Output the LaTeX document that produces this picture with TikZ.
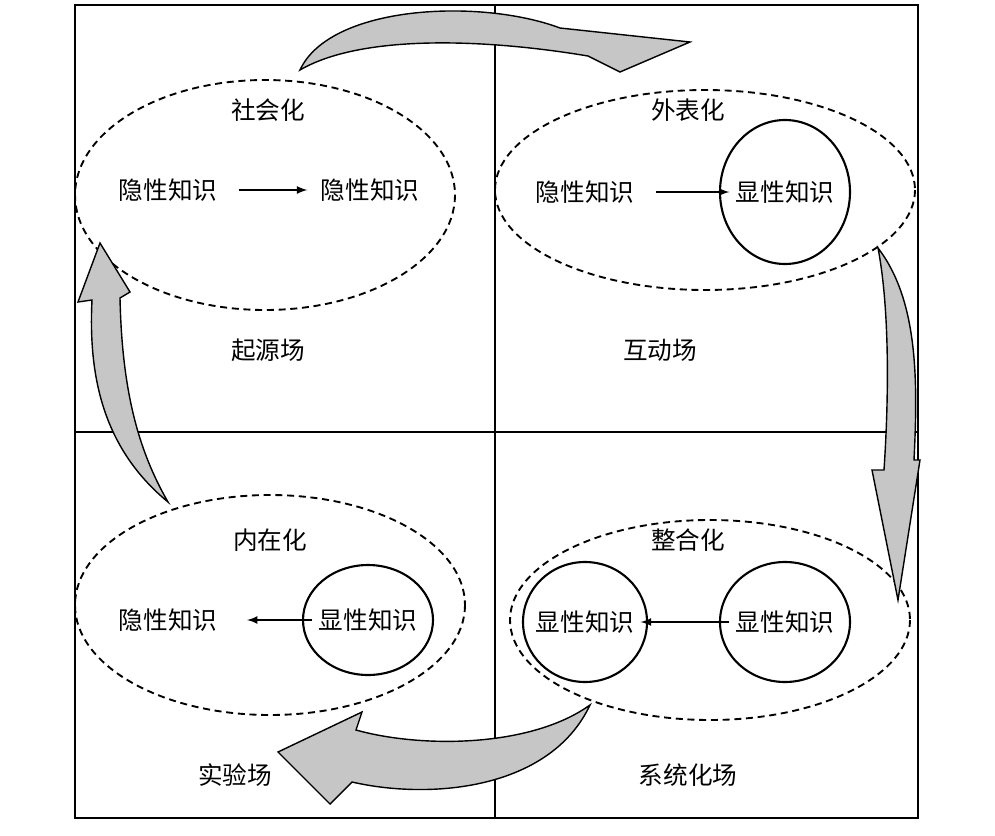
\documentclass[tikz,border=0pt]{standalone}
\usepackage{fontspec}
\setmainfont{Noto Sans CJK SC}[BoldFont={Noto Sans CJK SC Bold}]
\begin{document}
\begin{tikzpicture}[x=0.03cm,y=-0.03cm,
 lbl/.style={font=\fontsize{21}{24}\selectfont},
 dsh/.style={dash pattern=on 6pt off 4pt,line width=1.6pt},
 circ/.style={draw,line width=1.8pt},
 garrow/.style={fill=gray!45,draw=black,line width=1.2pt},
 conn/.style={-latex,line width=2pt}]
\useasboundingbox (0,0) rectangle (995,836);
\draw[line width=1.4pt] (75,5) rectangle (918,818);
\draw[line width=1.4pt] (495,5) -- (495,818) (75,432) -- (918,432);
% dashed ellipses
\draw[dsh] (265,195) ellipse [x radius=190,y radius=115];
\draw[dsh] (705,190) ellipse [x radius=210,y radius=100];
\draw[dsh] (270,605) ellipse [x radius=195,y radius=110];
\draw[dsh] (710,620) ellipse [x radius=200,y radius=100];
% circles
\draw[circ] (785,192) ellipse [x radius=65,y radius=72];
\draw[circ] (368,620) ellipse [x radius=65,y radius=55];
\draw[circ] (585,622) ellipse [x radius=62,y radius=60];
\draw[circ] (785,622) ellipse [x radius=65,y radius=60];
% texts
\node[lbl] (s) at (268,110) {社会化};
\node[lbl] (a1) at (168,190) {隐性知识};
\node[lbl] (a2) at (370,190) {隐性知识};
\node[lbl] (qy) at (268,350) {起源场};
\node[lbl] (w) at (688,110) {外表化};
\node[lbl] (b1) at (585,192) {隐性知识};
\node[lbl] (b2) at (785,192) {显性知识};
\node[lbl] (hd) at (660,350) {互动场};
\node[lbl] (n) at (270,540) {内在化};
\node[lbl] (c1) at (168,620) {隐性知识};
\node[lbl] (c2) at (368,620) {显性知识};
\node[lbl] (sy) at (235,775) {实验场};
\node[lbl] (z) at (688,540) {整合化};
\node[lbl] (d1) at (585,622) {显性知识};
\node[lbl] (d2) at (785,622) {显性知识};
\node[lbl] (xt) at (688,775) {系统化场};
\draw[conn] ([xshift=15]a1.east) -- ([xshift=-8]a2.west);
\draw[conn] ([xshift=15]b1.east) -- ([xshift=-2]b2.west);
\draw[conn] ([xshift=-2]c2.west) -- ([xshift=22]c1.east);
\draw[conn] ([xshift=-2]d2.west) -- ([xshift=2]d1.east);
% big gray arrows
\draw[garrow] (300,70) .. controls (330,5) and (480,-2) .. (560,28) -- (690,42) -- (620,72) -- (588,56) .. controls (480,38) and (360,35) .. cycle;
\draw[garrow] (878,248) .. controls (918,300) and (918,380) .. (914,460) -- (920,460) -- (898,600) -- (872,470) -- (884,470) .. controls (890,380) and (888,300) .. cycle;
\draw[garrow] (590,705) .. controls (550,790) and (430,800) .. (352,782) -- (330,804) -- (278,752) -- (362,712) -- (356,730) .. controls (420,748) and (530,748) .. cycle;
\draw[garrow] (168,502) .. controls (105,450) and (88,380) .. (92,300) -- (78,302) -- (100,243) -- (130,292) -- (120,298) .. controls (122,390) and (138,450) .. cycle;
\end{tikzpicture}
\end{document}
